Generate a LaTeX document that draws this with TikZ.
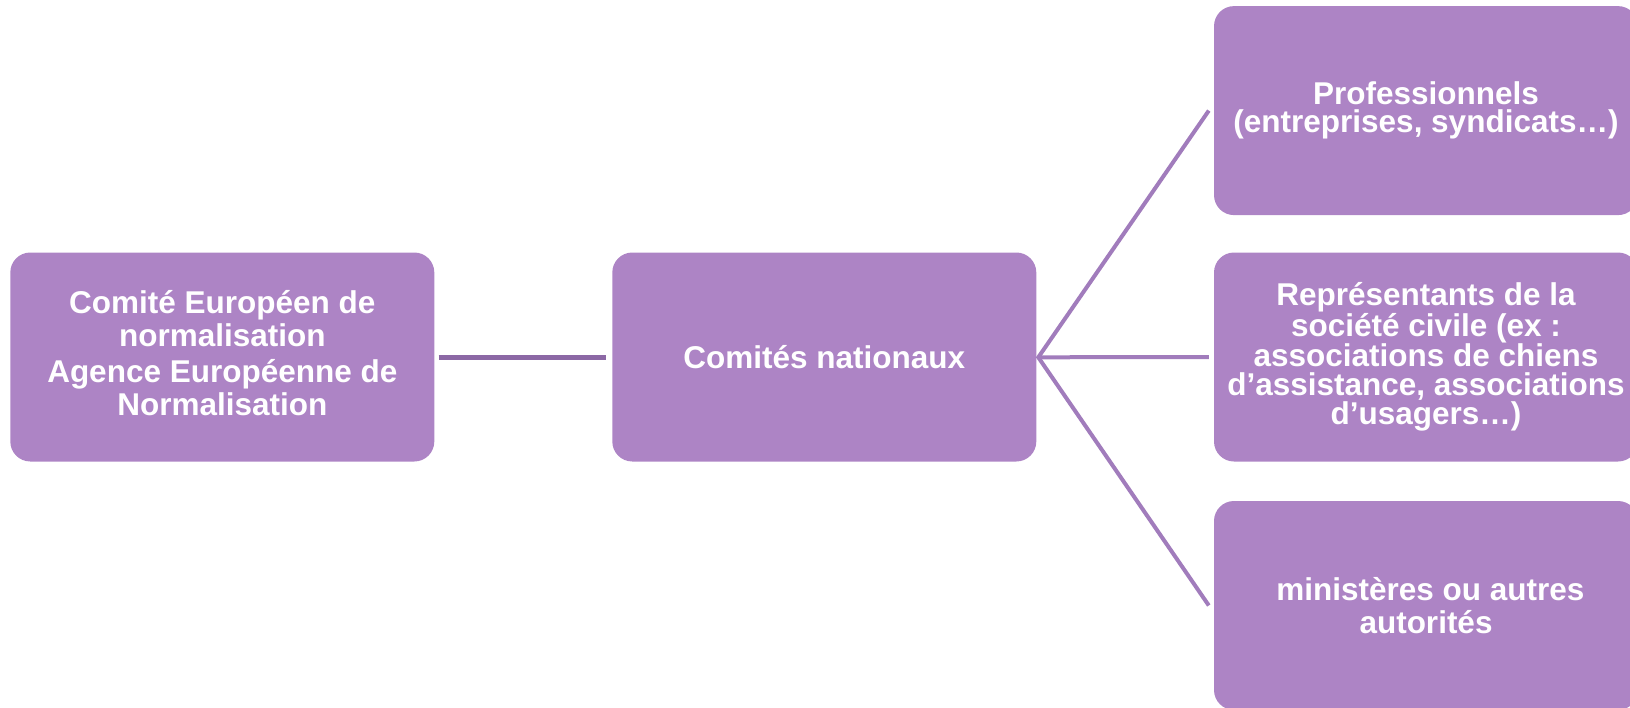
\documentclass[tikz,border=0pt]{standalone}
\usepackage{fontspec}
\setmainfont{Liberation Sans}
\usetikzlibrary{calc}
\definecolor{boxfill}{HTML}{AD84C5}
\definecolor{fanline}{HTML}{A17CBC}
\definecolor{darkline}{HTML}{8C68A5}
\begin{document}
\begin{tikzpicture}[x=1pt,y=-1pt,
  box/.style={fill=boxfill, rounded corners=20pt, minimum width=424pt, minimum height=209pt,
    inner sep=0pt, text=white, align=center},
  txt/.style={font=\bfseries\fontsize{31.5}{#1}\selectfont},
  fan/.style={draw=fanline, line width=4pt},
  link/.style={draw=darkline, line width=5pt}]
\clip (0,0) rectangle (1630,707);
\node[box, txt=33, text depth=9pt] (cen) at (222.3,357)
  {Comité Européen de\\normalisation\\[3pt]Agence Européenne de\\Normalisation};
\node[box, txt=33] (mid) at (824.3,357) {Comités nationaux};
\node[box, txt=28.5] (r1) at (1426,110.6) {Professionnels\\(entreprises, syndicats…)};
\node[box, txt=29] (r2) at (1426,357)
  {Représentants de la\\société civile (ex :\\associations de chiens\\d’assistance, associations\\d’usagers…)};
\node[box, txt=33] (r3) at (1426,605.5) {\ ministères ou autres\\autorités};
\coordinate (hub) at (1038.3,357.3);
\draw[link] (cen) -- (mid) [shorten <=4pt, shorten >=6pt];
\draw[fan] ($(r1.west)+(-5,0)$) -- (hub) -- ($(r3.west)+(-5,0)$);
\draw[fan] (hub) -- ($(r2.west)+(-5,0)$);
\end{tikzpicture}
\end{document}
